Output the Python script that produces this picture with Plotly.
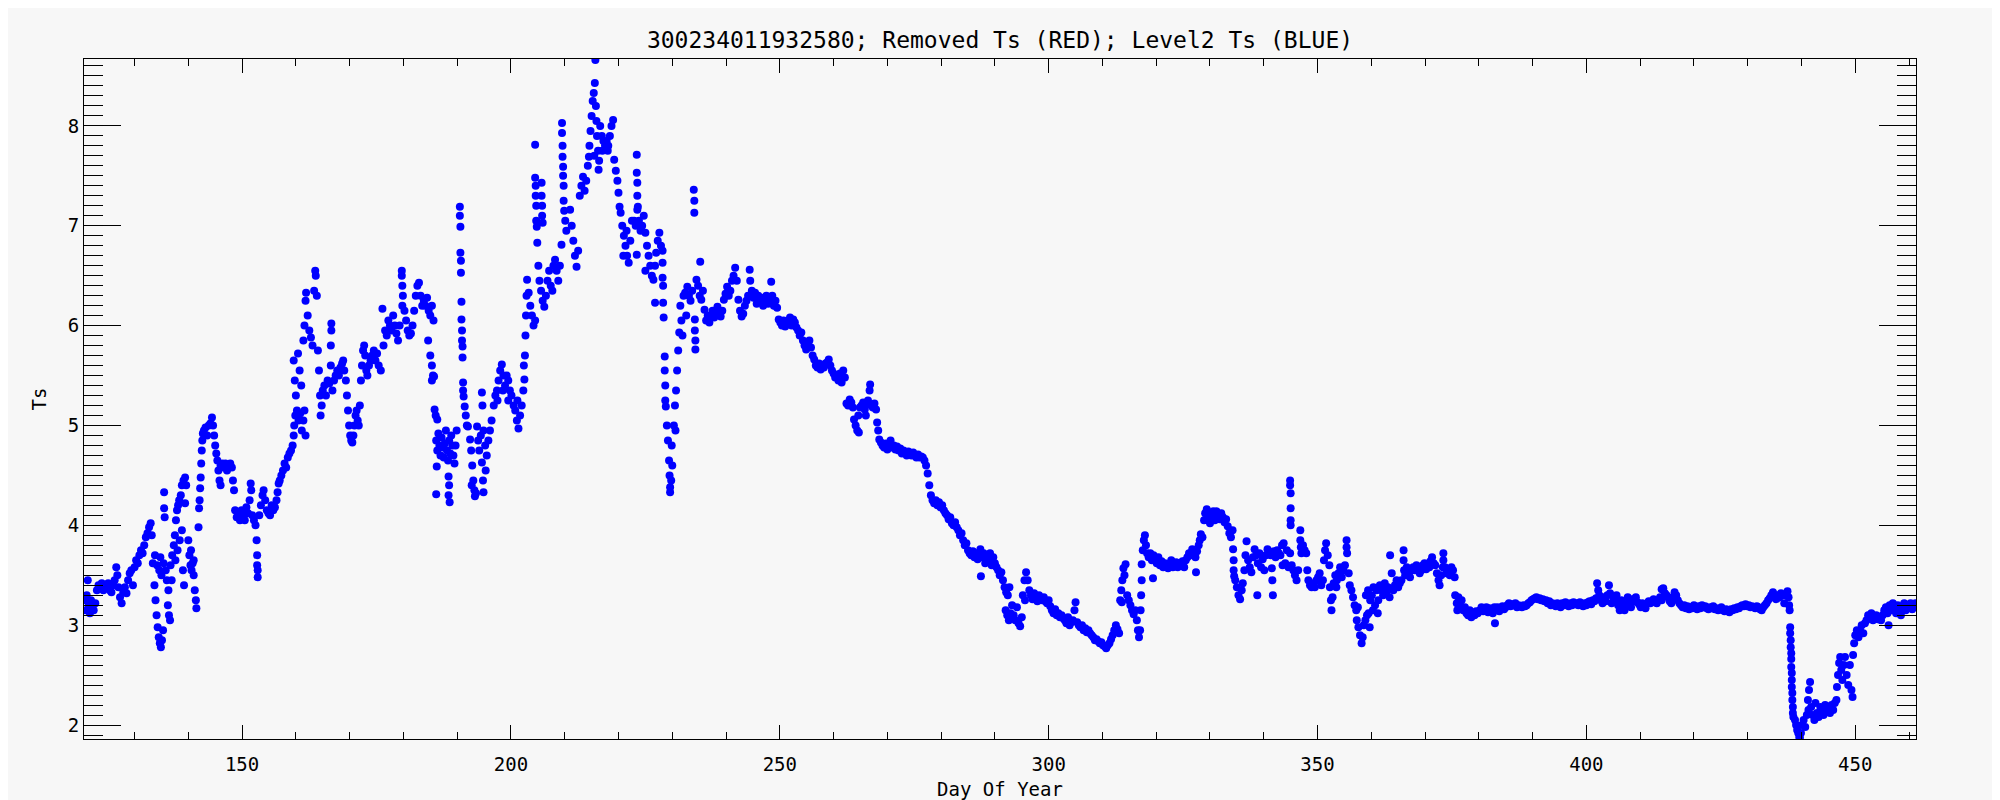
import plotly.graph_objects as go

# ---- data: (Day Of Year, Ts), by segment ----
seg_a = [(120.7,3.25),(120.9,3.15),(121.1,3.30),(121.3,3.45),(121.5,3.20),(121.7,3.12),(121.9,3.25),(122.1,3.18),
         (122.4,3.15),(122.7,3.22),(123.0,3.35),(123.3,3.40),(123.6,3.38),(123.9,3.42),(124.2,3.35),(124.5,3.40),
         (124.8,3.38),(125.1,3.42),(125.4,3.35),(125.7,3.33),(126.0,3.40),(126.3,3.45),(126.6,3.58),(126.8,3.50),
         (127.0,3.38),(127.3,3.28),(127.6,3.22),(127.9,3.33),(128.2,3.38),(128.5,3.32),(128.8,3.45),(129.1,3.52),
         (129.4,3.55),(129.7,3.40),(130.0,3.58),(130.3,3.65),(130.6,3.62),(130.9,3.70),(131.2,3.75),(131.5,3.72),
         (131.8,3.80),(132.1,3.88),(132.4,3.92),(132.7,3.98),(133.0,4.02),(133.2,3.90),(133.4,3.62),
         (133.7,3.40),(133.9,3.25),(134.1,3.10),(134.3,2.98),(134.5,2.88),(134.7,2.82),(134.9,2.78),(135.1,2.85),
         (135.3,2.95),(133.8,3.70),(134.2,3.60),(134.6,3.55),(135.0,3.50),(135.4,3.62),(135.8,3.55),(136.0,3.45),
         (135.5,4.33),(135.5,4.17),(135.6,4.08),(134.8,3.68),(136.2,3.20),(136.4,3.10),(136.6,3.05),(136.3,3.35),
         (136.7,3.60),(137.0,3.70),(136.9,3.45),(137.3,3.80),(137.5,3.90),(137.7,4.05),(137.9,4.15),(138.1,4.20),
         (138.3,4.25),(138.6,4.30),(138.8,4.40),(139.1,4.45),(139.4,4.48),(139.6,4.40),(139.4,4.22),(137.6,3.65),
         (138.0,3.75),(138.4,3.85),(138.8,3.95),(139.0,3.55),(139.2,3.40),(140.0,3.85),(140.2,3.70),(140.4,3.60),
         (140.6,3.55),(140.8,3.62),(141.0,3.50),(141.2,3.35),(141.4,3.25),(141.5,3.17),(140.5,3.75),(141.0,3.65),
         (141.9,3.98),(142.0,4.17),(142.1,4.25),(142.2,4.37),(142.3,4.48),(142.4,4.62),(142.5,4.75),(142.6,4.85),
         (142.7,4.92),(142.9,4.95),(143.2,4.98),(143.5,4.90),(143.8,5.00),(144.1,5.02),(144.4,5.08),(144.6,5.00),
         (144.8,4.90),(145.0,4.80),(145.2,4.72),(145.4,4.65),(145.6,4.55),(145.8,4.45),(146.0,4.60),(146.3,4.62),
         (146.6,4.58),(146.9,4.62),(147.2,4.55),(147.5,4.60),(147.8,4.62),(148.1,4.58),(148.3,4.45),(148.5,4.35),
         (146.0,4.40)]

seg_b = [(148.7,4.15),(149.0,4.08),(149.3,4.12),(149.6,4.05),(149.9,4.15),(150.2,4.10),(150.5,4.05),(150.8,4.18),
         (151.1,4.12),(151.4,4.25),(151.6,4.42),(151.7,4.35),(151.9,4.10),(152.2,4.05),(152.5,4.00),(152.7,3.85),
         (152.8,3.70),(152.8,3.60),(152.9,3.48),(152.9,3.55),(153.2,4.10),(153.5,4.20),(153.8,4.30),(154.0,4.35),
         (154.3,4.25),(154.6,4.15),(154.9,4.12),(155.2,4.10),(155.5,4.20),(155.8,4.15),(156.1,4.18),(156.4,4.25),
         (156.6,4.33),(156.8,4.42),(157.0,4.45),(157.3,4.50),(157.6,4.55),(157.9,4.62),(158.2,4.58),(158.5,4.68),
         (158.8,4.72),(159.1,4.75),(159.4,4.80),(159.6,4.90),(159.7,5.00),(159.9,5.10),(160.2,5.15),(160.5,5.05),
         (160.8,5.12),(161.1,4.95),(161.4,5.05),(161.6,5.15),(161.8,4.90),(159.6,5.65),(159.8,5.45),(160.0,5.30),
         (160.4,5.72),(160.7,5.55),(161.0,5.40),(161.4,5.85),(161.6,6.00),(161.8,6.25),(161.9,6.33),(162.2,6.10),
         (162.5,5.95),(162.8,5.88),(163.1,5.80),(163.4,6.35),(163.6,6.55),(163.7,6.50),(163.9,6.30),(164.1,5.75),
         (164.3,5.55),(164.5,5.30),(164.6,5.10),(164.8,5.20),(165.0,5.35),(165.3,5.40),(165.6,5.30),(165.9,5.45),
         (166.2,5.42),(166.5,5.60),(166.5,5.80),(166.6,5.95),(166.6,6.02),(166.8,5.35),(167.1,5.45),(167.4,5.50),
         (167.7,5.55),(168.0,5.50),(168.3,5.58),(168.6,5.62),(168.8,5.65),(169.0,5.55),(169.3,5.45),(169.5,5.30),
         (169.7,5.15),(169.9,5.00),(170.1,4.90),(170.3,4.85),(170.5,4.83),(170.7,4.90),(170.9,5.00),(171.1,5.10),
         (171.3,5.15),(171.5,5.05),(171.7,5.00),(171.9,5.20),(172.1,5.45),(172.3,5.60),(172.5,5.75),(172.7,5.80),
         (172.9,5.70),(173.1,5.55),(173.3,5.50),(173.6,5.60),(173.9,5.65),(174.2,5.70),(174.5,5.75),(174.8,5.65),
         (175.1,5.72),(175.4,5.60),(175.8,5.55),(176.1,6.17)]

seg_c = [(176.3,5.80),(176.6,5.95),(176.9,5.90),(177.2,6.05),(177.5,6.00),(177.8,5.95),(178.1,6.10),(178.4,6.00),
         (178.7,5.92),(179.0,5.85),(179.3,6.00),(179.7,6.55),(179.7,6.50),(179.8,6.40),(179.8,6.20),(179.9,6.30),
         (180.2,6.15),(180.5,6.05),(180.8,5.95),(181.1,5.90),(181.4,5.92),(181.7,6.00),(182.0,6.15),(182.3,6.30),
         (182.6,6.40),(182.9,6.43),(183.2,6.30),(183.5,6.20),(183.8,6.25),(184.1,6.20),(184.4,6.28),(184.7,6.15),
         (185.0,6.10),(185.3,6.20),(185.6,6.05),(184.6,5.85),(185.0,5.70),(185.3,5.60),(185.5,5.50),(185.7,5.49),
         (185.3,5.45),(185.8,5.16),(186.0,5.10),(186.3,5.06),(186.1,4.85),(186.3,4.75),(186.5,4.92),(186.7,4.80),
         (186.9,4.70),(187.1,4.88),(187.3,4.78),(187.5,4.68),(187.7,4.82),(187.9,4.95),(188.1,4.75),(188.3,4.65),
         (188.5,4.85),(188.7,4.72),(188.9,4.90),(189.1,4.80),(189.3,4.70),(189.5,4.62),(189.7,4.80),(189.9,4.95),
         (186.2,4.59),(186.1,4.31),(188.4,4.49),(188.5,4.40),(188.6,4.23),(188.4,4.30),
         (190.5,7.19),(190.5,7.10),(190.6,6.99),(190.6,6.73),(190.7,6.65),(190.7,6.53),(190.8,6.24),(190.8,6.06),
         (190.9,5.95),(190.9,5.85),(191.0,5.79),(191.0,5.68),(191.1,5.43),(191.1,5.35),(191.2,5.29),
         (191.4,5.19),(191.6,5.10),(191.8,5.00),(192.0,4.99),(192.4,4.86),(192.6,4.75),(192.8,4.60),(193.0,4.45),
         (193.2,4.35),(193.3,4.29),(193.5,4.32),(192.7,4.40),(193.7,4.99),(193.9,4.85),(194.1,4.75),(194.4,4.90),
         (194.6,5.33),(194.7,5.20),(194.9,4.95),(195.2,4.80),(195.5,4.70),(195.8,4.85),(196.1,4.95),(196.4,5.05),
         (194.6,4.63),(194.8,4.45),(194.9,4.33),(195.3,4.55),(196.8,5.20),(197.1,5.30),(197.4,5.35),(197.7,5.45),
         (198.0,5.55),(198.3,5.61),(198.6,5.50),(198.9,5.40),(199.2,5.50),(199.5,5.45),(199.8,5.35),(200.1,5.30),
         (197.5,5.25),(198.5,5.35),(199.5,5.25),(200.5,5.20),(200.8,5.15),(201.1,5.05),(201.4,4.97),(201.7,5.10),
         (202.0,5.20),(201.2,5.25)]

seg_d = [(202.3,5.35),(202.5,5.46),(202.6,5.70),(202.7,5.90),(202.8,6.10),(202.9,6.30),(203.0,6.46),(202.4,5.60),
         (203.3,6.33),(203.6,6.20),(203.9,6.10),(204.2,6.00),(204.5,6.05),(204.5,7.81),(204.5,7.48),(204.6,7.40),
         (204.6,7.30),(204.7,7.20),(204.7,7.05),(204.8,6.99),(204.9,6.83),(205.1,6.60),(205.3,6.45),(205.6,6.35),
         (205.9,6.25),(206.2,6.19),(206.5,6.30),(206.8,6.45),(207.1,6.55),(207.4,6.40),(207.7,6.35),(205.7,7.43),
         (205.7,7.30),(205.8,7.20),(205.8,7.10),(205.9,7.03),(207.9,6.60),(208.2,6.66),(208.5,6.55),(208.8,6.45),
         (209.1,6.60),(209.4,6.81),(209.5,8.03),(209.5,7.93),(209.6,7.80),(209.6,7.69),(209.7,7.59),(209.7,7.50),
         (209.8,7.40),(209.8,7.25),(209.9,7.15),(210.1,7.05),(210.3,6.95),(211.0,7.16),(211.3,7.00),(211.6,6.85),
         (211.9,6.70),(212.2,6.59),(212.5,6.75),(212.8,7.30),(213.1,7.40),(213.4,7.49),(213.7,7.35),(214.0,7.45),
         (214.3,7.60),(214.5,7.69),(214.6,7.80),(214.8,7.95),(215.0,8.10),(215.2,8.25),(215.4,8.33),(215.6,8.43),
         (215.7,8.66),(215.8,8.20),(216.0,7.90),(216.2,7.75),(216.3,7.56),(215.5,7.70),(215.9,8.05),(216.4,7.65),
         (216.6,8.00),(216.9,7.90),(217.2,7.85),(217.5,7.80),(217.8,7.85),(218.1,7.80),(218.4,7.90),(218.7,8.00),
         (219.0,8.06),(217.0,7.75),(218.0,7.75),(219.2,7.66),(219.5,7.55),(219.8,7.45),(220.0,7.33),(220.2,7.19),
         (220.4,7.13),(220.7,7.00),(221.0,6.90),(221.3,6.80),(221.6,6.70),(221.9,6.63),(222.2,6.85),(222.5,7.05),
         (220.9,6.70),(221.5,6.95),(223.4,7.71),(223.4,7.53),(223.5,7.43),(223.5,7.30),(223.6,7.19),(222.9,7.05),
         (223.2,7.00),(223.5,7.16),(223.8,7.05),(224.1,6.95),(224.4,7.00),(224.7,7.10),(225.0,6.93),(223.4,6.71),
         (225.3,6.80),(225.6,6.70),(225.9,6.60),(226.2,6.50),(226.5,6.46),(226.8,6.60),(225.0,6.55),(227.0,6.73),
         (227.3,6.85),(227.6,6.93),(227.9,6.80),(228.2,6.75),(226.8,6.23),(228.2,6.63),(228.2,6.48),(228.3,6.40),
         (228.3,6.23),(228.4,6.08),(228.6,5.69),(228.6,5.55),(228.7,5.40),(228.7,5.25),(228.8,5.19),(229.0,5.00),
         (229.2,4.85),(229.4,4.65),(229.5,4.50),(229.6,4.38),(229.6,4.33),(229.8,4.45),(230.0,4.60),(229.9,4.80),
         (230.3,5.00),(230.5,5.20),(230.7,5.35),(230.9,5.55),(231.1,5.75),(231.3,5.93),(230.6,4.95)]

seg_e = [(231.5,6.20),(231.7,6.05),(231.9,5.90),(232.1,6.30),(232.4,6.33),(232.6,6.10),(232.8,6.39),(233.1,6.30),
         (233.4,6.25),(233.7,6.35),(234.0,7.36),(234.1,7.25),(234.1,7.13),(234.2,6.06),(234.2,5.95),(234.3,5.85),
         (234.3,5.76),(235.2,6.64),(234.5,6.46),(234.8,6.40),(235.1,6.30),(235.4,6.26),(235.7,6.35),(236.0,6.16),
         (236.3,6.05),(236.6,6.10),(236.9,6.03),(237.2,6.10),(237.5,6.15),(237.8,6.08),(238.1,6.12),(238.4,6.19),
         (238.7,6.15),(239.0,6.09),(239.3,6.15),(239.6,6.26),(239.9,6.32),(240.2,6.39),(240.5,6.30),(240.8,6.35),
         (241.1,6.45),(241.4,6.50),(241.7,6.58),(242.0,6.45),(242.3,6.26),(242.6,6.15),(242.9,6.09),(243.2,6.12),
         (243.5,6.20),(243.8,6.25),(244.1,6.30),(244.4,6.56),(244.5,6.45),(244.8,6.35),(245.1,6.28),(245.4,6.33),
         (245.7,6.22),(246.0,6.30),(246.3,6.25),(246.6,6.28),(246.9,6.20),(247.2,6.26),(247.5,6.30),(247.8,6.22),
         (248.1,6.26),(248.4,6.44),(248.6,6.30),(248.9,6.20),(249.2,6.25),(249.5,6.18),(249.8,6.06),(250.1,6.03),
         (250.4,6.00),(250.7,6.05),(251.0,5.99),(251.3,6.02),(251.6,6.05),(251.9,6.08),(252.2,6.00),(252.5,6.06),
         (252.8,6.03),(253.1,5.98),(253.4,5.95),(253.7,5.90),(254.0,5.93),(254.3,5.85),(254.6,5.80),(254.9,5.76),
         (255.2,5.82),(255.5,5.85),(255.8,5.78),(256.1,5.70),(256.4,5.66),(256.7,5.60),(257.0,5.58),(257.3,5.62),
         (257.6,5.56),(257.9,5.60),(258.2,5.58),(258.5,5.62),(258.8,5.63),(259.1,5.66),(259.4,5.60),(259.7,5.55),
         (260.0,5.52),(260.3,5.48),(260.6,5.50),(260.9,5.45),(261.2,5.52),(261.5,5.43),(261.8,5.55),(262.1,5.48),
         (262.4,5.22),(262.7,5.20),(263.0,5.26),(263.3,5.23),(263.6,5.18),(263.8,5.06),(264.1,5.00),(264.4,4.95),
         (264.7,4.93),(264.6,5.10),(264.9,5.18),(265.2,5.20),(265.5,5.23),(265.8,5.16),(266.1,5.22),(266.4,5.25),
         (266.7,5.35),(266.8,5.41),(267.0,5.20),(267.3,5.18),(267.6,5.22),(267.9,5.16),(266.0,5.10),(268.1,5.03),
         (268.3,4.95),(268.5,4.86),(268.8,4.83),(269.1,4.80),(269.4,4.78),(269.7,4.82),(270.0,4.76),(270.3,4.80),
         (270.6,4.85),(270.9,4.78),(271.2,4.80),(271.5,4.76),(271.8,4.79),(272.1,4.75),(272.4,4.77),(272.7,4.72),
         (273.0,4.75),(273.3,4.73),(273.6,4.70),(273.9,4.74),(274.2,4.72),(274.5,4.70),(274.8,4.73),(275.1,4.70),
         (275.4,4.68),(275.7,4.71),(276.0,4.68),(276.3,4.69),(276.6,4.68)]

seg_f = [(276.9,4.65),(277.2,4.60),(277.5,4.52),(277.8,4.40),(278.1,4.30),(278.4,4.25),(278.7,4.22),(279.0,4.25),
         (279.3,4.20),(279.6,4.23),(279.9,4.18),(280.2,4.20),(280.5,4.15),(280.8,4.12),(281.1,4.10),(281.4,4.06),
         (281.7,4.08),(282.0,4.02),(282.3,4.00),(282.6,4.03),(282.9,3.98),(283.2,3.95),(283.5,3.90),(283.8,3.92),
         (284.1,3.85),(284.4,3.80),(284.7,3.82),(285.0,3.75),(285.3,3.72),(285.6,3.70),(285.9,3.74),(286.2,3.68),
         (286.5,3.72),(286.8,3.66),(287.3,3.76),(287.6,3.68),(287.9,3.72),(288.2,3.62),(288.5,3.70),(288.8,3.65),
         (289.1,3.72),(289.4,3.60),(287.4,3.49),(289.7,3.68),(290.0,3.62),(290.3,3.58),(290.6,3.55),(290.9,3.50),
         (291.2,3.53),(291.5,3.45),(291.8,3.38),(292.1,3.33),(292.4,3.30),(292.7,3.38),(292.0,3.15),(292.3,3.10),
         (292.6,3.05),(292.9,3.12),(293.2,3.20),(293.5,3.10),(293.8,3.05),(294.1,3.18),(294.4,3.02),(294.7,2.99),
         (295.0,3.08),(295.2,3.30),(295.5,3.45),(295.8,3.53),(296.1,3.45),(296.4,3.35),(295.6,3.25),(296.7,3.30),
         (297.0,3.26),(297.3,3.32),(297.6,3.28),(297.9,3.24),(298.2,3.30),(298.5,3.27),(298.8,3.25),(299.1,3.28),
         (299.4,3.24),(299.7,3.22),(300.0,3.25),(300.3,3.19),(300.6,3.15),(300.9,3.12),(301.2,3.16),(301.5,3.10),
         (301.8,3.12),(302.1,3.08),(302.4,3.10),(302.7,3.07),(303.0,3.05),(303.3,3.02),(303.6,3.08),(303.9,3.00),
         (304.2,3.03),(304.5,3.05),(304.8,3.15),(305.0,3.23),(305.3,3.03),(305.6,3.00),(305.9,2.98),(306.2,3.00),
         (306.5,2.95),(306.8,2.97),(307.1,2.93),(307.4,2.95),(307.7,2.92),(308.0,2.90),(308.3,2.88),(308.6,2.85),
         (308.9,2.86),(309.2,2.84),(309.5,2.82),(309.8,2.83),(310.1,2.80),(310.4,2.79),(310.7,2.77),(311.0,2.80),
         (311.3,2.82),(311.6,2.86),(311.9,2.90),(312.2,2.95),(312.5,3.00),(312.8,2.96),(313.1,2.92),(313.3,3.25),
         (313.5,3.35),(313.7,3.45),(313.9,3.57),(314.1,3.50),(314.3,3.61),(313.6,3.23),(314.6,3.30),(314.9,3.25),
         (315.2,3.20),(315.5,3.15),(315.8,3.11),(316.1,3.15),(316.4,3.05),(316.6,2.95),(316.8,2.88),(317.0,2.95),
         (317.1,3.15),(317.2,3.30),(317.3,3.45),(317.3,3.61),(317.5,3.75),(317.7,3.85),(317.9,3.90),(318.1,3.80)]

seg_g = [(318.3,3.72),(318.6,3.68),(318.9,3.72),(319.2,3.65),(319.4,3.47),(319.5,3.70),(319.8,3.66),(320.1,3.62),
         (320.4,3.68),(320.7,3.60),(321.0,3.64),(321.3,3.58),(321.6,3.62),(321.9,3.60),(322.2,3.57),(322.5,3.62),
         (322.8,3.65),(323.1,3.58),(323.4,3.60),(323.7,3.63),(324.0,3.58),(324.3,3.62),(324.6,3.60),(324.9,3.64),
         (325.2,3.58),(325.5,3.65),(325.8,3.68),(326.1,3.72),(326.4,3.70),(326.7,3.76),(327.0,3.72),(327.3,3.68),
         (327.4,3.53),(327.6,3.74),(327.9,3.80),(328.1,3.85),(328.3,3.91),(328.6,3.88),(328.9,4.05),(329.1,4.12),
         (329.4,4.16),(329.7,4.08),(330.0,4.02),(330.3,4.10),(330.6,4.14),(330.9,4.05),(331.2,4.14),(331.5,4.10),
         (331.8,4.06),(332.1,4.12),(332.4,4.08),(332.7,4.03),(333.0,4.06),(333.3,3.99),(333.6,3.92),(333.9,3.88),
         (334.2,3.95),(334.3,3.76),(334.4,3.65),(334.4,3.55),(334.5,3.49),(334.7,3.45),(335.0,3.38),(335.3,3.30),
         (335.6,3.26),(335.9,3.35),(336.1,3.42),(336.4,3.55),(336.6,3.70),(336.8,3.84),(337.1,3.65),(337.4,3.58),
         (337.7,3.53),(338.0,3.68),(338.3,3.76),(338.6,3.70),(338.8,3.30),(338.9,3.62),(339.2,3.72),(339.5,3.58),
         (339.8,3.66),(340.1,3.55),(340.4,3.70),(340.7,3.76),(341.0,3.72),(341.3,3.70),(341.5,3.57),(341.6,3.45),
         (341.7,3.30),(341.9,3.74),(342.2,3.68),(342.5,3.75),(342.8,3.72),(343.1,3.70),(343.4,3.80),(343.7,3.82),
         (344.0,3.62),(344.3,3.75),(344.6,3.58),(344.9,3.72),(345.2,3.60),(345.5,3.55),(343.5,3.60),(344.9,4.45),
         (344.9,4.40),(345.0,4.32),(345.0,4.17),(345.0,4.05),(345.0,4.00),(345.8,3.50),(346.1,3.45),(346.4,3.55),
         (346.8,3.95),(346.8,3.85),(346.9,3.78),(347.0,3.72),(347.3,3.80),(347.6,3.75),(347.9,3.72),(348.1,3.55),
         (348.3,3.45),(348.6,3.40),(348.9,3.38),(349.2,3.42),(349.5,3.38),(349.8,3.45),(350.1,3.48),(350.4,3.52),
         (350.7,3.40),(351.0,3.45),(351.2,3.65),(351.4,3.75),(351.6,3.82),(351.9,3.70),(352.2,3.60),(352.3,3.38),
         (352.5,3.25),(352.6,3.15),(352.8,3.28),(353.0,3.42),(353.3,3.50),(353.6,3.45),(353.9,3.52),(354.2,3.58),
         (354.5,3.48),(354.8,3.55),(355.1,3.60),(353.5,3.38),(355.4,3.85),(355.4,3.78),(355.5,3.72),(355.8,3.52),
         (356.0,3.40),(356.3,3.35),(356.6,3.28),(356.9,3.20),(357.2,3.15),(357.5,3.18),(357.3,3.05),(357.6,2.98),
         (357.9,2.90),(358.2,2.82),(358.4,2.88),(358.6,3.00),(358.9,3.05),(359.2,3.10),(359.5,3.12),(359.7,2.98)]

seg_h = [(359.0,3.30),(359.4,3.35),(359.8,3.25),(360.1,3.30),(360.4,3.38),(360.7,3.20),(361.0,3.35),(361.3,3.25),
         (361.6,3.40),(360.3,3.15),(361.2,3.12),(361.9,3.35),(362.2,3.30),(362.5,3.42),(362.8,3.32),(363.1,3.38),
         (363.4,3.28),(363.5,3.70),(363.8,3.52),(364.1,3.35),(364.4,3.40),(364.7,3.45),(365.0,3.38),(365.3,3.42),
         (365.6,3.45),(366.0,3.75),(366.0,3.65),(366.1,3.55),(366.3,3.50),(366.6,3.58),(366.9,3.52),(367.2,3.48),
         (367.5,3.55),(367.8,3.58),(368.1,3.55),(368.4,3.60),(368.7,3.58),(369.0,3.52),(369.3,3.55),(369.6,3.60),
         (369.9,3.62),(370.2,3.56),(370.5,3.60),(370.8,3.58),(371.0,3.64),(371.3,3.68),(371.6,3.62),(371.9,3.60),
         (372.2,3.52),(372.5,3.45),(372.7,3.40),(373.0,3.50),(373.3,3.58),(373.4,3.72),(373.4,3.65),(373.7,3.58),
         (374.0,3.52),(374.3,3.55),(374.6,3.50),(374.9,3.58),(375.2,3.55),(375.5,3.48),(375.6,3.30),(375.9,3.22),
         (376.2,3.28),(376.5,3.20),(376.8,3.25),(376.0,3.15),(377.1,3.15),(377.4,3.18),(377.7,3.12),(378.0,3.10),
         (378.3,3.15),(378.6,3.08),(378.9,3.12),(379.2,3.10),(379.5,3.14),(379.8,3.12),(380.2,3.15),(380.5,3.18),
         (380.8,3.14),(381.1,3.16),(381.4,3.18),(381.7,3.13),(382.0,3.17),(382.3,3.15),(382.6,3.12),(382.9,3.18),
         (383.0,3.02),(383.2,3.16),(383.5,3.18),(383.8,3.14),(384.1,3.17),(384.4,3.19),(384.7,3.16),(385.0,3.18),
         (385.3,3.20),(385.6,3.22),(385.9,3.19),(386.2,3.21),(386.5,3.20),(386.8,3.22),(387.1,3.18),(387.4,3.20),
         (387.7,3.19),(388.0,3.18),(388.3,3.20),(388.6,3.19),(388.9,3.20),(389.2,3.22),(389.5,3.23),(389.8,3.25),
         (390.1,3.26),(390.4,3.27),(390.7,3.28),(391.0,3.26),(391.3,3.27),(391.6,3.25),(391.9,3.26),(392.2,3.24),
         (392.5,3.25),(392.8,3.22),(393.1,3.24),(393.4,3.20),(393.7,3.22),(394.0,3.21),(394.3,3.19),(394.6,3.22),
         (394.9,3.21),(395.2,3.18),(395.5,3.22),(395.8,3.20),(396.1,3.23),(396.4,3.21),(396.7,3.19),(397.0,3.22),
         (397.3,3.20),(397.6,3.23),(397.9,3.21),(398.2,3.22),(398.5,3.20),(398.8,3.23),(399.1,3.21),(399.4,3.19),
         (399.7,3.22),(400.0,3.20),(400.3,3.23),(400.6,3.24),(400.9,3.21),(401.2,3.25),(401.5,3.24),(401.8,3.27),
         (402.0,3.42),(402.2,3.35),(402.4,3.30),(402.7,3.25),(403.0,3.22),(403.3,3.28),(403.6,3.24),(403.9,3.30),
         (404.2,3.40),(404.4,3.32),(404.7,3.22),(405.0,3.28),(405.3,3.25),(405.6,3.30),(405.9,3.20),(406.2,3.15),
         (406.5,3.25)]

seg_i = [(406.8,3.22),(407.1,3.15),(407.4,3.20),(407.7,3.28),(408.0,3.24),(408.3,3.18),(408.6,3.26),(408.9,3.24),
         (409.2,3.28),(409.5,3.23),(409.8,3.21),(410.1,3.18),(410.4,3.22),(410.7,3.20),(411.0,3.17),(411.3,3.22),
         (411.6,3.24),(411.9,3.22),(412.2,3.24),(412.5,3.26),(412.8,3.23),(413.1,3.22),(413.4,3.25),(413.7,3.28),
         (414.0,3.25),(414.0,3.36),(414.3,3.37),(414.6,3.32),(414.9,3.30),(415.2,3.28),(415.5,3.24),(415.8,3.22),
         (416.1,3.28),(416.4,3.33),(416.7,3.30),(417.0,3.25),(417.3,3.22),(417.6,3.20),(417.9,3.18),(418.2,3.20),
         (418.5,3.17),(418.8,3.19),(419.1,3.16),(419.4,3.18),(419.7,3.17),(420.0,3.20),(420.3,3.18),(420.6,3.16),
         (420.9,3.19),(421.2,3.17),(421.5,3.20),(421.8,3.18),(422.1,3.19),(422.4,3.17),(422.7,3.16),(423.0,3.18),
         (423.3,3.17),(423.6,3.19),(423.9,3.16),(424.2,3.17),(424.5,3.15),(424.8,3.16),(425.1,3.18),(425.4,3.15),
         (425.7,3.14),(426.0,3.16),(426.3,3.14),(426.6,3.13),(426.9,3.16),(427.2,3.15),(427.5,3.17),(427.8,3.16),
         (428.1,3.18),(428.4,3.17),(428.7,3.19),(429.0,3.20),(429.3,3.19),(429.6,3.21),(429.9,3.19),(430.2,3.20),
         (430.5,3.18),(430.8,3.19),(431.1,3.18),(431.4,3.17),(431.7,3.19),(432.0,3.18),(432.3,3.16),(432.6,3.15),
         (432.9,3.18),(433.2,3.20),(433.5,3.22),(433.8,3.25),(434.1,3.27),(434.4,3.30),(434.7,3.33),(435.0,3.30),
         (435.3,3.26),(435.6,3.30),(435.9,3.28),(436.2,3.32),(436.5,3.30),(436.8,3.22),(437.1,3.30),(437.4,3.34),
         (437.6,3.28),(437.7,3.20),(437.8,3.15),(437.9,2.98),(437.9,2.92),(438.0,2.85),(438.0,2.78),(438.1,2.72),
         (438.1,2.66),(438.1,2.58),(438.2,2.52),(438.2,2.45),(438.2,2.38),(438.3,2.32),(438.3,2.25),(438.4,2.18),
         (438.4,2.12),(438.5,2.08),(438.8,2.05),(439.0,2.00),(439.2,1.95),(439.4,1.92),(439.6,1.88),(439.7,1.87),
         (439.9,1.92),(440.1,2.00),(440.4,2.05),(440.7,1.98),(441.0,2.10),(441.2,2.25),(441.4,2.35),(441.6,2.43),
         (441.3,2.15),(441.8,2.18),(442.1,2.10),(442.4,2.05),(442.6,2.22),(442.9,2.12),(443.2,2.08),(443.5,2.18),
         (443.8,2.15),(444.1,2.10),(444.4,2.20),(444.7,2.14),(445.0,2.18),(445.3,2.12),(445.6,2.20),(445.9,2.15),
         (446.2,2.22),(446.5,2.25),(446.6,2.38),(446.8,2.50),(447.0,2.62),(447.2,2.68),(447.4,2.55),(447.6,2.45),
         (447.9,2.60),(448.1,2.68),(448.4,2.50),(448.7,2.40),(449.0,2.60),(449.3,2.35),(449.5,2.28),(449.6,2.70),
         (449.8,2.82),(450.0,2.90),(450.3,2.95),(450.6,2.88),(450.9,2.95),(451.2,3.00),(451.5,2.92),(451.8,3.02),
         (452.1,3.05),(452.4,3.10),(452.7,3.08),(453.0,3.12),(453.3,3.05),(453.6,3.07),(453.9,3.10),(454.2,3.06),
         (454.5,3.08),(454.8,3.05),(455.1,3.10),(455.4,3.15),(455.7,3.18),(456.0,3.12),(456.2,3.00),(456.4,3.20),
         (456.7,3.15),(457.0,3.22),(457.3,3.18),(457.6,3.12),(457.9,3.20),(458.2,3.16),(458.5,3.10),(458.8,3.18),
         (459.1,3.22),(459.4,3.15),(459.7,3.20),(460.0,3.18),(460.3,3.22),(460.6,3.16),(460.9,3.20),(461.2,3.22)]

segments = [seg_a, seg_b, seg_c, seg_d, seg_e, seg_f, seg_g, seg_h, seg_i]
day = [p[0] for s in segments for p in s]
ts = [p[1] for s in segments for p in s]

x_range = [120.6, 461.3]
y_range = [1.86, 8.67]
title_text = "300234011932580; Removed Ts (RED); Level2 Ts (BLUE)"
x_title = "Day Of Year"
y_title = "Ts"

BG = "#f7f7f7"
FONT = "DejaVu Sans Mono"

# the page body adds an 8 px offset; figure is sized so it ends at the window edge
FIG_W, FIG_H = 1992, 792

fig = go.Figure()
fig.add_trace(go.Scatter(
    x=day, y=ts, mode="markers",
    marker=dict(color="#0000ff", size=8, line=dict(width=0)),
    showlegend=False, hoverinfo="skip",
))

fig.update_layout(
    width=FIG_W, height=FIG_H,
    margin=dict(l=76, r=84, t=51, b=61, pad=0, autoexpand=False),
    paper_bgcolor=BG, plot_bgcolor=BG,
    font=dict(family=FONT, size=19, color="black"),
    showlegend=False,
    title=dict(text=title_text, x=0.5, xanchor="center", xref="paper",
               y=1 - 32/FIG_H, yanchor="middle", yref="container",
               font=dict(size=23, family=FONT, color="black"), automargin=False),
)

fig.update_xaxes(
    range=x_range, showgrid=False, zeroline=False, automargin=False,
    showline=True, linecolor="black", linewidth=1, mirror="ticks",
    ticks="inside", ticklen=14, tickwidth=1, tickcolor="black",
    tick0=0, dtick=50, tickfont=dict(size=19, family=FONT, color="black"),
    ticklabelstandoff=8,
    minor=dict(ticks="inside", ticklen=7, tickwidth=1, tickcolor="black", dtick=10, tick0=0, showgrid=False),
    title=dict(text=x_title, font=dict(size=19, family=FONT), standoff=12),
)
fig.update_yaxes(
    range=y_range, showgrid=False, zeroline=False, automargin=False,
    showline=True, linecolor="black", linewidth=1, mirror="ticks",
    ticks="inside", ticklen=37, tickwidth=1, tickcolor="black",
    tick0=0, dtick=1, tickfont=dict(size=19, family=FONT, color="black"),
    minor=dict(ticks="inside", ticklen=19, tickwidth=1, tickcolor="black", dtick=0.1, tick0=0, showgrid=False),
    title=dict(text=y_title, font=dict(size=19, family=FONT), standoff=16),
)

fig.write_html("out.html")
